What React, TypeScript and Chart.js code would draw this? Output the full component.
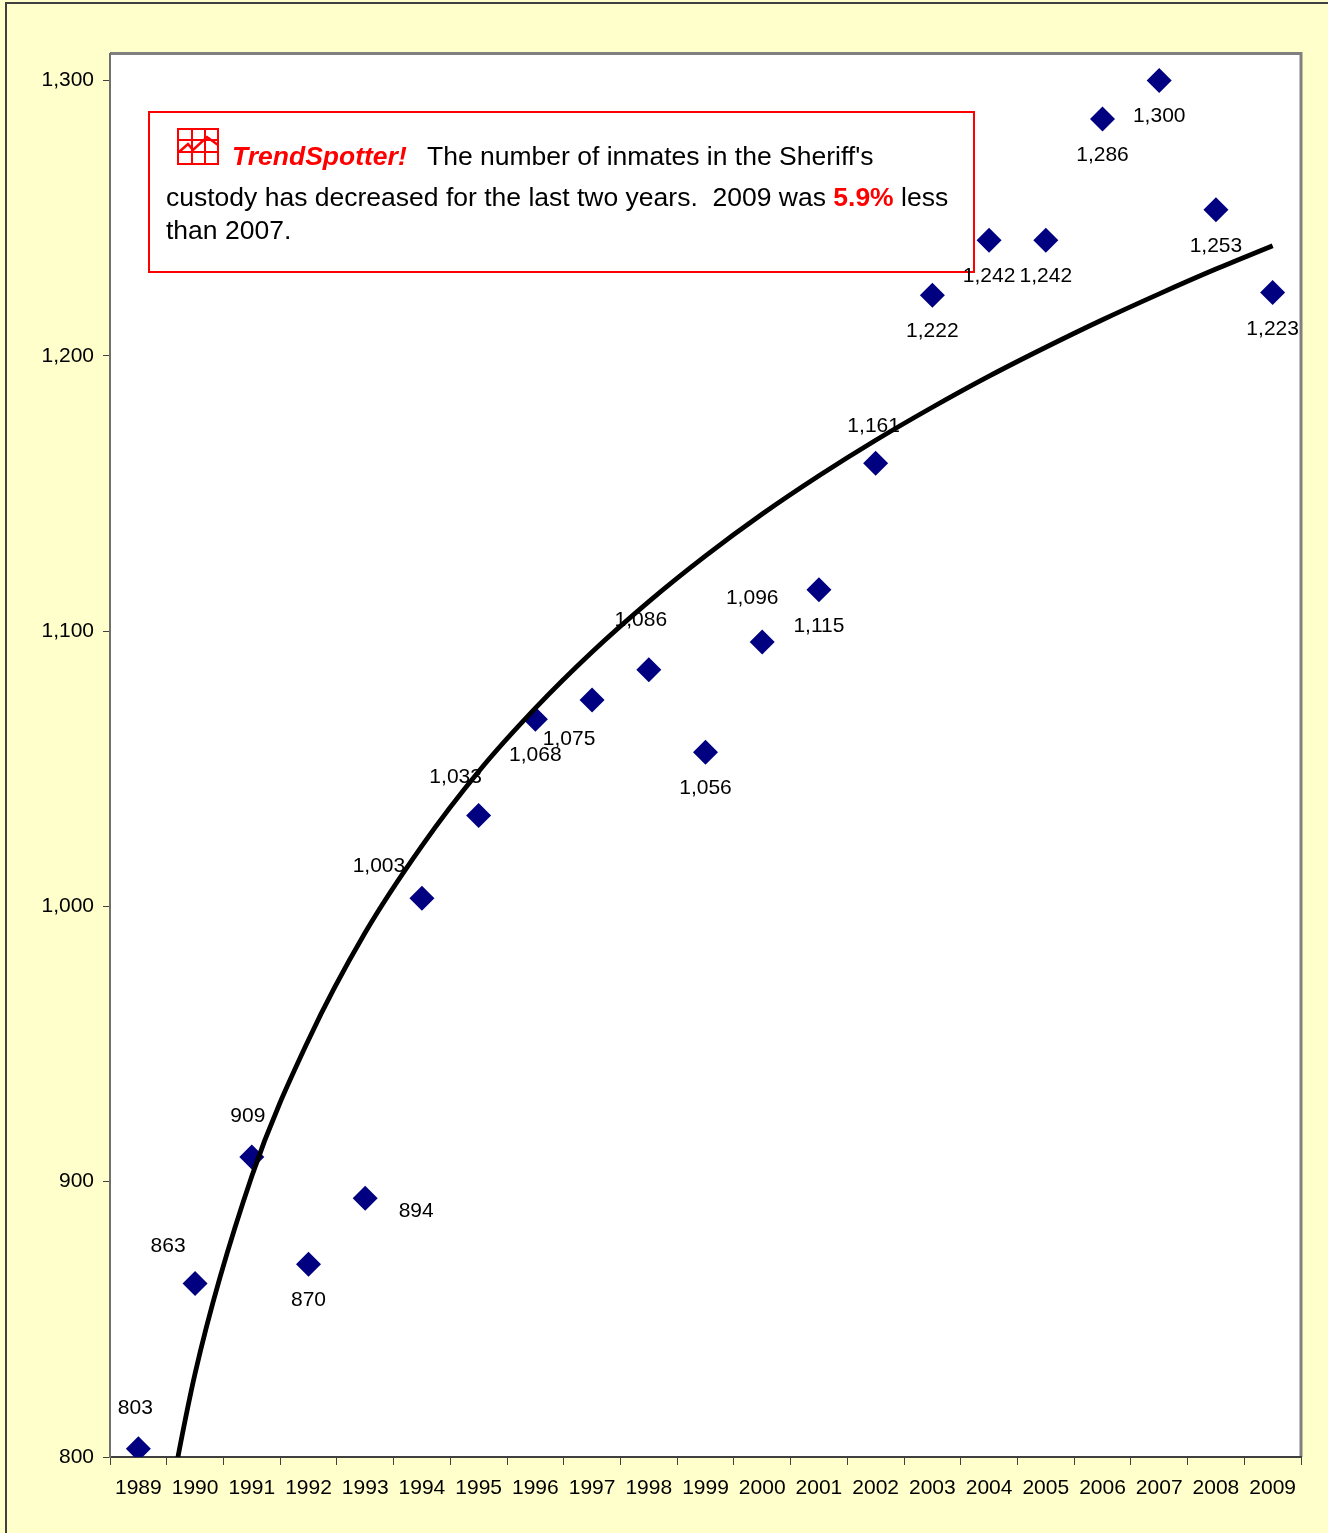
import React, { useEffect, useRef } from "react";
import { Chart, registerables } from "chart.js";

Chart.register(...registerables);

const years = ["1989","1990","1991","1992","1993","1994","1995","1996","1997","1998","1999","2000","2001","2002","2003","2004","2005","2006","2007","2008","2009"];
const inmates = [803,863,909,870,894,1003,1033,1068,1075,1086,1056,1096,1115,1161,1222,1242,1242,1286,1300,1253,1223];
const trend = [722,830.3,902,951.5,990.5,1022,1049,1072,1092.4,1110.7,1127.3,1142.5,1156.4,1169.3,1181.3,1192.6,1203.1,1213.1,1222.5,1231.5,1240];
const labelDx = [-3,-27,-4,0,51,-43,-23,0,-23,-8,0,-10,0,-2,0,0,0,0,0,0,0];
const labelDy = [-42,-38,-42,35,12,-33,-39,35,38,-50,35,-45,35,-38,35,35,35,35,35,35,36];
const yTickValues = [800,900,1000,1100,1200,1300];
const yMin = 800;
const yMax = 1309.8;

const FONT = '"Liberation Sans", Arial, sans-serif';
const fmt = (v: number) => v.toLocaleString("en-US");

const decor = {
  id: "decor",
  beforeDraw(chart: any) {
    const { ctx, width, height, chartArea: a } = chart;
    ctx.save();
    ctx.fillStyle = "#FFFFCC";
    ctx.fillRect(0, 0, width, height);
    ctx.strokeStyle = "#404040";
    ctx.lineWidth = 2;
    ctx.beginPath();
    ctx.moveTo(6, height);
    ctx.lineTo(6, 3);
    ctx.lineTo(width, 3);
    ctx.stroke();
    ctx.fillStyle = "#FFFFFF";
    ctx.fillRect(a.left, a.top, a.right - a.left, a.bottom - a.top);
    ctx.strokeStyle = "#808080";
    ctx.lineWidth = 3;
    ctx.beginPath();
    ctx.moveTo(a.left, a.top);
    ctx.lineTo(a.right, a.top);
    ctx.lineTo(a.right, a.bottom);
    ctx.stroke();
    ctx.restore();
  },
  beforeDatasetsDraw(chart: any) {
    const { ctx } = chart;
    ctx.save();
    // note box
    ctx.fillStyle = "#FFFFFF";
    ctx.fillRect(149, 112, 825, 160);
    ctx.strokeStyle = "#FF0000";
    ctx.lineWidth = 2;
    ctx.strokeRect(149, 112, 825, 160);
    // icon
    ctx.lineWidth = 2;
    ctx.strokeRect(178, 129, 40, 35);
    ctx.beginPath();
    [192, 205].forEach((x) => { ctx.moveTo(x, 129); ctx.lineTo(x, 164); });
    [140, 152].forEach((y) => { ctx.moveTo(178, y); ctx.lineTo(218, y); });
    ctx.stroke();
    ctx.lineWidth = 2.5;
    ctx.beginPath();
    ctx.moveTo(179, 152); ctx.lineTo(188, 144); ctx.lineTo(193, 150); ctx.lineTo(207, 137); ctx.lineTo(218, 145);
    ctx.stroke();
    // text
    ctx.textBaseline = "alphabetic";
    ctx.textAlign = "left";
    const body = `26.5px ${FONT}`;
    const run = (t: string, x: number, y: number, font: string, color: string) => {
      ctx.font = font; ctx.fillStyle = color; ctx.fillText(t, x, y);
      return x + ctx.measureText(t).width;
    };
    run("TrendSpotter!", 232, 165, `italic bold 26.5px ${FONT}`, "#FF0000");
    run("The number of inmates in the Sheriff's", 427, 165, body, "#000000");
    let x = run("custody has decreased for the last two years.  2009 was ", 166, 206, body, "#000000");
    x = run("5.9%", x, 206, `bold 26.5px ${FONT}`, "#FF0000");
    run(" less", x, 206, body, "#000000");
    run("than 2007.", 166, 239, body, "#000000");
    ctx.restore();
  },
  afterDatasetsDraw(chart: any) {
    const { ctx } = chart;
    const pts = chart.getDatasetMeta(1).data;
    ctx.save();
    ctx.font = `21px ${FONT}`;
    ctx.fillStyle = "#000000";
    ctx.textAlign = "center";
    ctx.textBaseline = "middle";
    inmates.forEach((v, i) => {
      ctx.fillText(fmt(v), pts[i].x + labelDx[i], pts[i].y + labelDy[i] + 1);
    });
    ctx.restore();
  },
};

export default function App() {
  const ref = useRef<HTMLCanvasElement>(null);
  useEffect(() => {
    const chart = new Chart(ref.current!, {
      type: "line",
      data: {
        labels: years,
        datasets: [
          {
            label: "Trend",
            data: trend,
            borderColor: "#000000",
            borderWidth: 4.8,
            pointRadius: 0,
            cubicInterpolationMode: "monotone",
            fill: false,
            order: 1,
          },
          {
            label: "Inmates",
            data: inmates,
            showLine: false,
            pointStyle: "rectRot",
            pointRadius: 12.5,
            pointBackgroundColor: "#000080",
            pointBorderColor: "#000080",
            pointBorderWidth: 0,
            order: 2,
          },
        ],
      },
      options: {
        animation: false,
        responsive: false,
        layout: { padding: { left: 0, top: 53.5, right: 27, bottom: 0 } },
        plugins: { legend: { display: false }, tooltip: { enabled: false }, title: { display: false } },
        scales: {
          x: {
            offset: true,
            afterFit: (s: any) => { s.height = 76; },
            grid: { drawOnChartArea: false, drawTicks: true, tickLength: 8, color: "#404040", offset: true },
            border: { color: "#404040", width: 2 },
            ticks: { autoSkip: false, maxRotation: 0, color: "#000000", padding: 11, font: { family: FONT, size: 21 } },
          },
          y: {
            min: yMin,
            max: yMax,
            afterFit: (s: any) => { s.width = 110; },
            afterBuildTicks: (s: any) => { s.ticks = yTickValues.map((value) => ({ value })); },
            grid: { drawOnChartArea: false, drawTicks: true, tickLength: 7, color: "#404040" },
            border: { color: "#707070", width: 2 },
            ticks: {
              color: "#000000",
              padding: 9,
              font: { family: FONT, size: 21 },
              callback: (v: any) => fmt(Number(v)),
            },
          },
        },
      },
      plugins: [decor],
    } as any);
    return () => chart.destroy();
  }, []);
  return (
    <div style={{ position: "absolute", left: 0, top: 0, width: 1328, height: 1533, overflow: "hidden" }}>
      <canvas ref={ref} width={1328} height={1533} style={{ display: "block" }} />
    </div>
  );
}
